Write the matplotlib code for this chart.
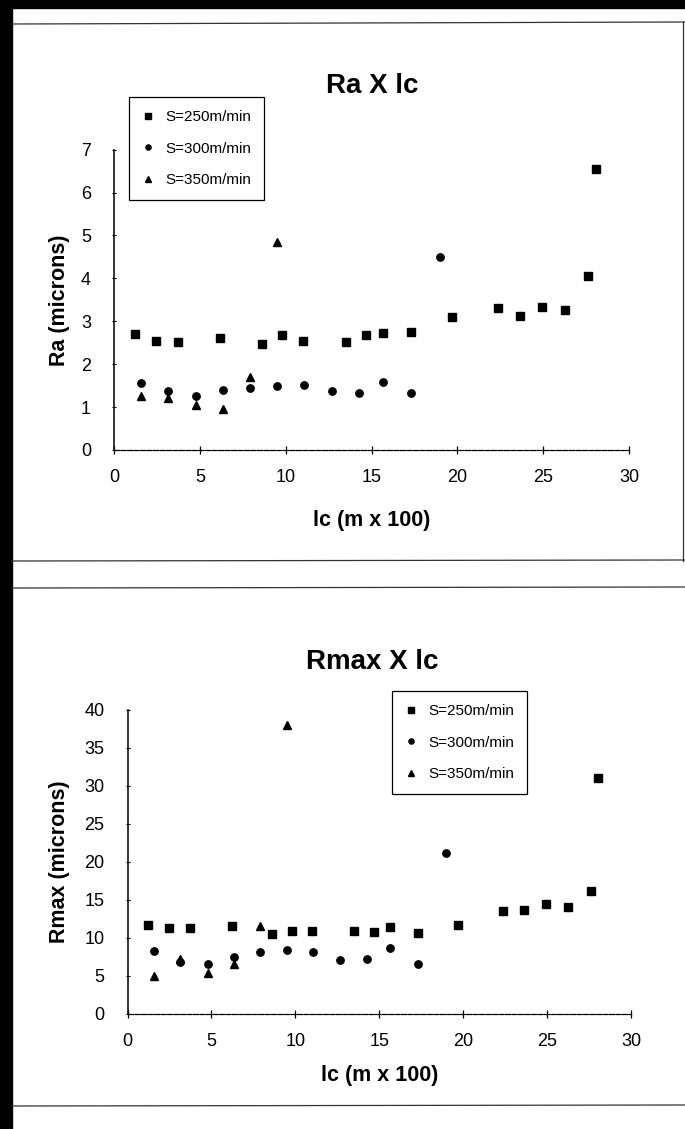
import matplotlib
matplotlib.use("Agg")
import matplotlib.pyplot as plt
from matplotlib.lines import Line2D
from matplotlib.patches import Rectangle

plt.rcParams['font.family'] = ['Liberation Sans', 'DejaVu Sans']

# cutting length lc (m x 100) for each cutting speed
lc_250 = [1.2, 2.45, 3.7, 6.2, 8.6, 9.8, 11.0, 13.5, 14.7, 15.65, 17.3, 19.7,
          22.35, 23.65, 24.95, 26.25, 27.6, 28.05]
lc_300 = [1.55, 3.15, 4.78, 6.35, 7.92, 9.5, 11.08, 12.69, 14.25, 15.65, 17.3, 19.0]
lc_350 = [1.55, 3.15, 4.78, 6.35, 7.92, 9.5]

# Ra (microns)
ra_250 = [2.70, 2.53, 2.51, 2.62, 2.47, 2.68, 2.55, 2.52, 2.68, 2.72, 2.76, 3.10,
          3.30, 3.13, 3.33, 3.26, 4.06, 6.55]
ra_300 = [1.57, 1.37, 1.27, 1.40, 1.45, 1.50, 1.52, 1.38, 1.34, 1.58, 1.34, 4.49]
ra_350 = [1.27, 1.21, 1.05, 0.96, 1.71, 4.85]

# Rmax (microns)
rmax_250 = [11.6, 11.3, 11.3, 11.5, 10.5, 10.9, 10.9, 10.9, 10.75, 11.4, 10.6, 11.7,
            13.45, 13.7, 14.4, 14.1, 16.2, 31.0]
rmax_300 = [8.3, 6.8, 6.5, 7.5, 8.1, 8.4, 8.1, 7.0, 7.15, 8.6, 6.55, 21.1]
rmax_350 = [4.9, 7.2, 5.35, 6.55, 11.5, 38.0]

labels = ["S=250m/min", "S=300m/min", "S=350m/min"]

W, H = 685, 1129
fig = plt.figure(figsize=(W / 100, H / 100), dpi=100)


def px(x0, y0, x1, y1):
    # pixel box -> figure fraction [left, bottom, width, height]
    return [x0 / W, 1 - y1 / H, (x1 - x0) / W, (y1 - y0) / H]


def fy(y):
    return 1 - y / H


def make_chart(rect, series, ymax, ystep, title, title_y, ylabel, leg_xy, ylab_x, xlab_y):
    ax = fig.add_axes(rect)
    markers = ['s', 'o', '^']
    sizes = [5.8, 5.3, 6.0]
    for (xs, ys), m, s, lab in zip(series, markers, sizes, labels):
        ax.plot(xs, ys, linestyle='none', marker=m, markersize=s, color='black', label=lab)
    ax.set_xlim(0, 30)
    ax.set_ylim(0, ymax)
    ax.set_xticks(range(0, 31, 5))
    ax.set_yticks(range(0, ymax + 1, ystep))
    for side in ['top', 'right']:
        ax.spines[side].set_visible(False)
    ax.spines['bottom'].set_linestyle((0, (4, 1.2)))
    ax.spines['bottom'].set_linewidth(0.9)
    ax.spines['left'].set_linewidth(1.1)
    ax.tick_params(axis='x', direction='inout', length=6, width=0.9, pad=11, labelsize=13)
    ax.tick_params(axis='y', direction='inout', length=3, width=0.8, pad=15, labelsize=13)
    ax.set_xlabel('lc (m x 100)', fontsize=15.5, fontweight='bold')
    ax.set_ylabel(ylabel, fontsize=15.5, fontweight='bold')
    ax.xaxis.set_label_coords(0.5, xlab_y)
    ax.yaxis.set_label_coords(ylab_x, 0.5)
    fig.text(372 / W, fy(title_y), title, ha='center', va='center',
             fontsize=20, fontweight='bold')
    leg = ax.legend(loc='upper left', bbox_to_anchor=(leg_xy[0] / W, fy(leg_xy[1])),
                    bbox_transform=fig.transFigure, fontsize=11, frameon=True,
                    fancybox=False, edgecolor='black', framealpha=1, numpoints=1,
                    markerscale=0.7, handlelength=0.8, handletextpad=0.7,
                    borderpad=0.85, labelspacing=1.15, borderaxespad=0)
    leg.get_frame().set_linewidth(0.9)
    return ax


make_chart(px(114, 149.7, 629, 450),
           [(lc_250, ra_250), (lc_300, ra_300), (lc_350, ra_350)],
           7, 1, 'Ra X lc', 86, 'Ra (microns)', (129, 97), -0.085, -0.2)

make_chart(px(127.5, 710, 631, 1013.5),
           [(lc_250, rmax_250), (lc_300, rmax_300), (lc_350, rmax_350)],
           40, 5, 'Rmax X lc', 662, 'Rmax (microns)', (392, 691), -0.114, -0.17)

# scanned page frame
fig.add_artist(Rectangle((0, 0), 12 / W, 1, transform=fig.transFigure, color='black', zorder=0))
fig.add_artist(Rectangle((0, fy(8)), 1, 8 / H, transform=fig.transFigure, color='black', zorder=0))
for (x0, y0, x1, y1) in [(12, 24, 685, 22), (683, 22, 683, 561), (12, 561, 685, 560),
                         (12, 588, 685, 587), (12, 1106, 685, 1105)]:
    fig.add_artist(Line2D([x0 / W, x1 / W], [fy(y0), fy(y1)], transform=fig.transFigure,
                          color='#333333', linewidth=0.9))

fig.savefig('out.png', dpi=100)
